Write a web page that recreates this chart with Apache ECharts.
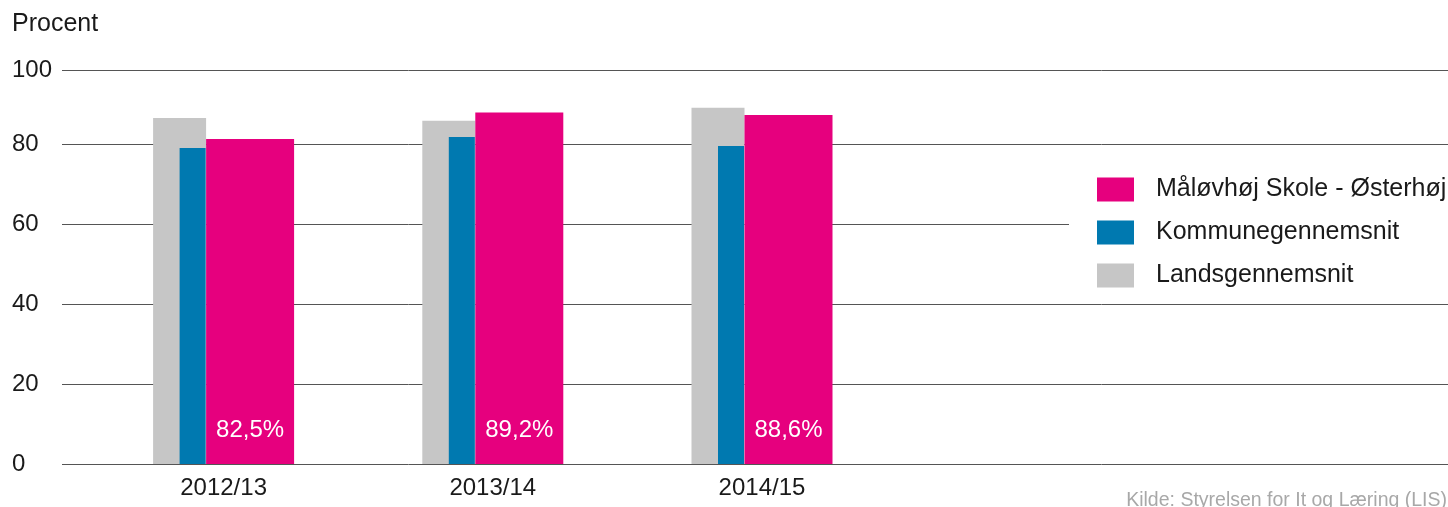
<!DOCTYPE html>
<html>
<head>
<meta charset="utf-8">
<script src="https://cdn.jsdelivr.net/npm/echarts@6/dist/echarts.min.js"></script>
<style>
    html, body { margin: 0; padding: 0; background: #fff; }
    #chart { width: 1448px; height: 507px; }
</style>
</head>
<body>
<div id="chart"></div>
<script>
    // data
    const years = ['2012/13', '2013/14', '2014/15', '', ''];
    const skole = [82.5, 89.2, 88.6];
    const kommune = [80.2, 83.0, 80.7];
    const lands = [87.8, 87.1, 90.4];
    const yTicks = [0, 20, 40, 60, 80, 100];
    // gitterlinjerne i originalen ligger lidt tættere end søjleskalaen; øverste linje er "100"
    const gridTop = 98.5;

    const names = ['Måløvhøj Skole - Østerhøj', 'Kommunegennemsnit', 'Landsgennemsnit'];
    const colors = ['#e6007e', '#0079b0', '#c6c6c6'];
    const font = '"Liberation Sans", Arial, sans-serif';

    const chart = echarts.init(document.getElementById('chart'));

    const option = {
        animation: false,
        title: {
            text: 'Procent',
            left: 12,
            top: 12,
            padding: 0,
            textStyle: { fontFamily: font, fontSize: 25, fontWeight: 'normal', color: '#1a1a1a' }
        },
        legend: {
            data: names,
            orient: 'vertical',
            left: 1069,
            top: 152,
            padding: [25, 8, 12, 28],
            backgroundColor: '#fff',
            icon: 'rect',
            itemWidth: 37,
            itemHeight: 24,
            itemGap: 18,
            textStyle: { fontFamily: font, fontSize: 25, color: '#1a1a1a', padding: [0, 0, 0, 17] }
        },
        grid: [
            { left: 62, right: 0, top: 70, bottom: 43 },
            { left: 89, width: 1346, top: 70, bottom: 43 }
        ],
        xAxis: [
            { type: 'category', gridIndex: 0, show: false, data: years },
            {
                type: 'category',
                gridIndex: 1,
                data: years,
                axisLine: { show: false },
                axisTick: { show: false },
                axisLabel: { fontFamily: font, fontSize: 24, color: '#1a1a1a', margin: 12 }
            },
            { type: 'category', gridIndex: 1, show: false, data: years }
        ],
        yAxis: [
            {
                type: 'value',
                gridIndex: 0,
                min: yTicks[0],
                max: gridTop,
                interval: 20,
                axisLine: { show: false },
                axisTick: { show: false },
                axisLabel: {
                    fontFamily: font,
                    fontSize: 24,
                    color: '#1a1a1a',
                    align: 'left',
                    margin: 50,
                    padding: [3, 0, 0, 0],
                    formatter: v => (v > yTicks[4] ? yTicks[5] : v)
                },
                splitLine: { lineStyle: { color: '#555', width: 1 } }
            },
            { type: 'value', gridIndex: 1, min: 0, max: 100, show: false }
        ],
        series: [
            {
                name: names[2],
                type: 'bar',
                xAxisIndex: 1,
                yAxisIndex: 1,
                barWidth: 53,
                barGap: '0%',
                itemStyle: { color: colors[2] },
                data: lands
            },
            {
                name: names[0],
                type: 'bar',
                xAxisIndex: 1,
                yAxisIndex: 1,
                barWidth: 88,
                barGap: '0%',
                itemStyle: { color: colors[0] },
                data: skole,
                label: {
                    show: true,
                    position: 'insideBottom',
                    distance: 22,
                    fontFamily: font,
                    fontSize: 24,
                    color: '#fff',
                    formatter: p => String(p.value).replace('.', ',') + '%'
                }
            },
            {
                name: names[1],
                type: 'bar',
                xAxisIndex: 2,
                yAxisIndex: 1,
                barWidth: 26,
                barGap: '0%',
                itemStyle: { color: colors[1] },
                data: kommune
            },
            {
                // tom serie der kun skubber den blå søjle til venstre
                name: 'spacer',
                type: 'bar',
                xAxisIndex: 2,
                yAxisIndex: 1,
                barWidth: 62,
                barGap: '0%',
                silent: true,
                itemStyle: { color: 'transparent' },
                data: ['-', '-', '-']
            }
        ],
        graphic: [
            {
                type: 'text',
                right: 1,
                top: 491,
                style: { text: 'Kilde: Styrelsen for It og Læring (LIS)', fontFamily: font, fontSize: 19.5, fill: '#a8a8a8' }
            }
        ]
    };

    chart.setOption(option);
</script>
</body>
</html>
